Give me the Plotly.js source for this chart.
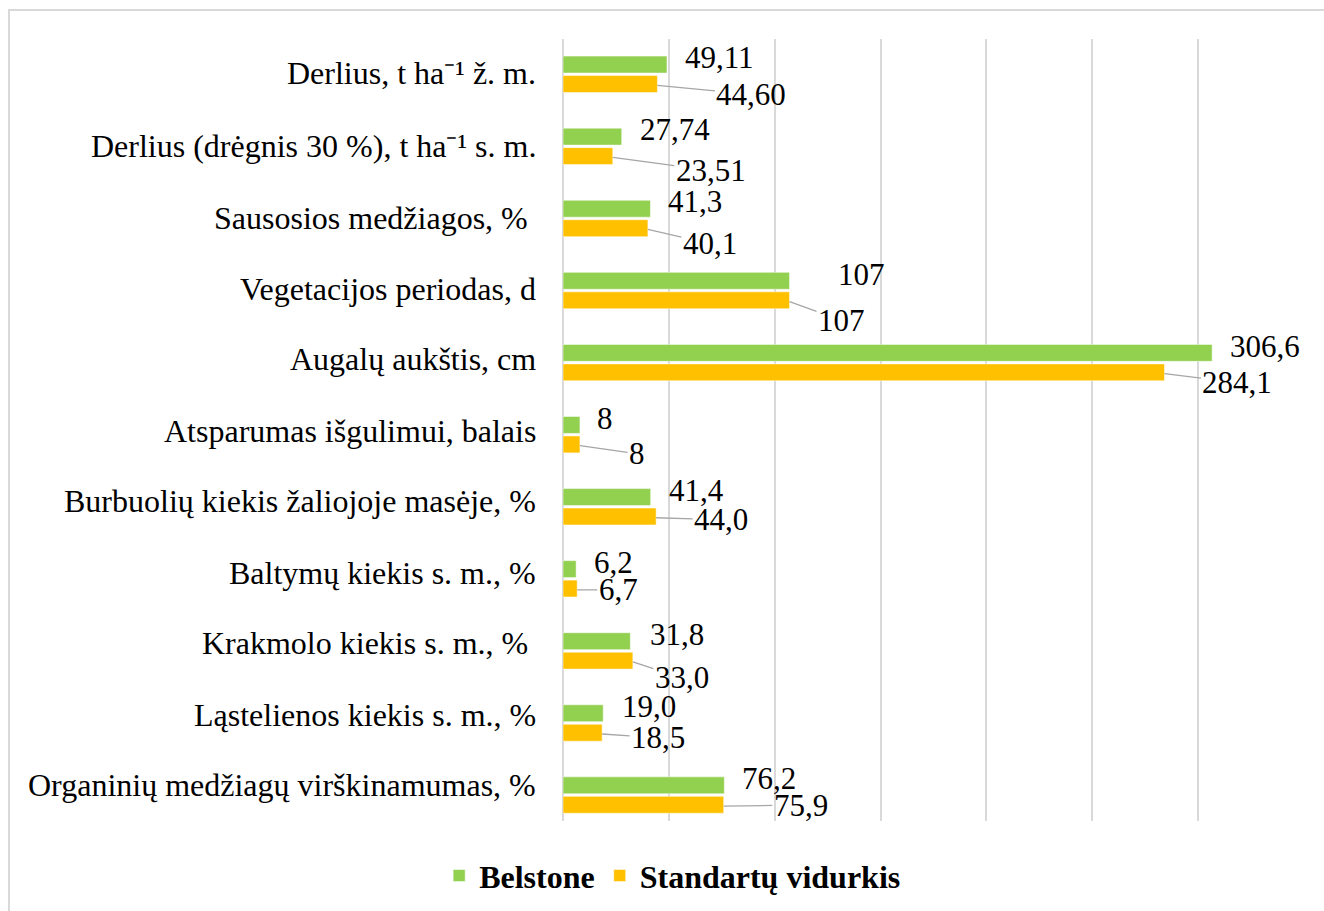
<!DOCTYPE html>
<html>
<head>
<meta charset="utf-8">
<script src="https://cdn.plot.ly/plotly-3.0.1.min.js"></script>
<style>
  body { margin: 0; overflow: hidden; background: #fff; }
  #frame { position: absolute; left: 8px; top: 9px; width: 1340px; height: 920px;
           border-top: 2px solid #d9d9d9; border-left: 2px solid #d9d9d9; }
  #plot { width: 1340px; height: 920px; }
  #plot text { font-family: 'Liberation Serif', 'Times New Roman', serif !important; }
</style>
</head>
<body>
<div id="frame"><div id="plot"></div></div>
<script>
// categories (top to bottom)
let categories = [
    "Derlius, t ha⁻¹ ž. m.",
    "Derlius (drėgnis 30 %), t ha⁻¹ s. m.",
    "Sausosios medžiagos, %\u00a0",
    "Vegetacijos periodas, d",
    "Augalų aukštis, cm",
    "Atsparumas išgulimui, balais",
    "Burbuolių kiekis žaliojoje masėje, %",
    "Baltymų kiekis s. m., %",
    "Krakmolo kiekis s. m., %\u00a0",
    "Ląstelienos kiekis s. m., %",
    "Organinių medžiagų virškinamumas, %"
];

// series values
let belstone = [49.11, 27.74, 41.3, 107, 306.6, 8, 41.4, 6.2, 31.8, 19.0, 76.2];
let standartai = [44.60, 23.51, 40.1, 107, 284.1, 8, 44.0, 6.7, 33.0, 18.5, 75.9];

// value labels as printed
let belstoneLabels = ["49,11", "27,74", "41,3", "107", "306,6", "8", "41,4", "6,2", "31,8", "19,0", "76,2"];
let standartaiLabels = ["44,60", "23,51", "40,1", "107", "284,1", "8", "44,0", "6,7", "33,0", "18,5", "75,9"];

// label placement (pixels)
let greenShift = [16, 16, 16, 46, 16, 15, 16, 16, 18, 17, 16];
let orangeAx = [94, 98, 62, 52, 73, 57, 65, 41, 49, 56, 77];
let orangeAy = [9, 13, 14, 19, 9, 8, 2, 0, 16, 4, -1];
let catShift = [1, 0, 0, 2, 4, 4, 6, 6, 8, 8, 10];

let fontFam = "Liberation Serif";

let trace1 = {
    y: categories,
    x: belstone,
    name: "Belstone",
    type: "bar",
    orientation: "h",
    marker: { color: "#92D050", line: { color: "#ffffff", width: 0.5 } },
    hoverinfo: "none"
};

let trace2 = {
    y: categories,
    x: standartai,
    name: "Standartų vidurkis",
    type: "bar",
    orientation: "h",
    marker: { color: "#FFC000", line: { color: "#ffffff", width: 0.5 } },
    hoverinfo: "none"
};

let annotations = [];
for (let i = 0; i < categories.length; i++) {
    // category label
    annotations.push({
        x: 0, y: categories[i], xref: "paper", yref: "y",
        text: categories[i], showarrow: false,
        xanchor: "right", yanchor: "middle",
        xshift: -25, yshift: catShift[i],
        font: { family: fontFam, size: 32, color: "#000" }
    });
    annotations.push({
        x: belstone[i], y: categories[i], xref: "x", yref: "y",
        text: belstoneLabels[i], showarrow: false,
        xanchor: "left", yanchor: "middle",
        xshift: greenShift[i], yshift: 16.5,
        font: { family: fontFam, size: 31, color: "#000" }
    });
    annotations.push({
        x: standartai[i], y: categories[i], xref: "x", yref: "y",
        text: standartaiLabels[i], showarrow: true,
        arrowhead: 0, arrowwidth: 1.3, arrowcolor: "#a6a6a6",
        ax: orangeAx[i], ay: orangeAy[i], yshift: -11,
        font: { family: fontFam, size: 31, color: "#000" }
    });
}

let layout = {
    width: 1340,
    height: 920,
    margin: { l: 553, r: 46, t: 28, b: 110 },
    paper_bgcolor: "#fff",
    plot_bgcolor: "#fff",
    font: { family: fontFam, size: 32, color: "#000" },
    barmode: "group",
    bargap: 0.46,
    bargroupgap: 0.13,
    showlegend: true,
    legend: {
        orientation: "h",
        x: 0.148, xanchor: "center",
        y: -0.07, yanchor: "middle",
        font: { family: fontFam, size: 32, weight: "bold" },
        traceorder: "normal"
    },
    xaxis: {
        range: [0, 350],
        dtick: 50,
        showgrid: true,
        gridcolor: "#d9d9d9",
        gridwidth: 2,
        zeroline: true,
        zerolinecolor: "#d9d9d9",
        zerolinewidth: 2,
        showticklabels: false,
        ticks: "",
        showline: false
    },
    yaxis: {
        type: "category",
        range: [10.36, -0.49],
        autorange: false,
        ticks: "",
        showticklabels: false,
        showline: false,
        showgrid: false
    },
    annotations: annotations
};

Plotly.newPlot("plot", [trace1, trace2], layout, { displayModeBar: false, staticPlot: true });
</script>
</body>
</html>
